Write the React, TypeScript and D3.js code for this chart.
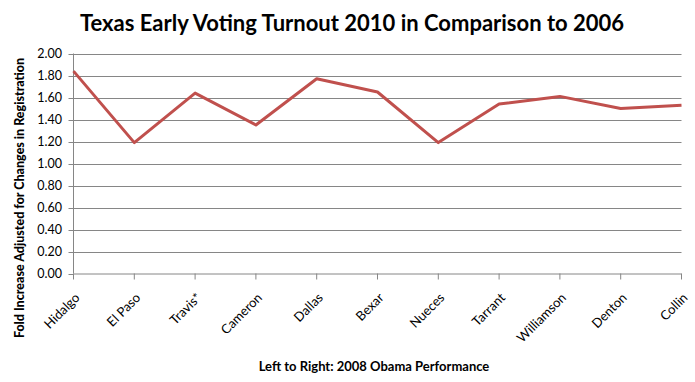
import React from "react";
import * as d3 from "d3";

const counties = ["Hidalgo", "El Paso", "Travis*", "Cameron", "Dallas", "Bexar", "Nueces", "Tarrant", "Williamson", "Denton", "Collin"];
const foldIncrease = [1.84, 1.19, 1.64, 1.35, 1.77, 1.65, 1.19, 1.54, 1.61, 1.50, 1.53];
const yTicks = [0, 0.2, 0.4, 0.6, 0.8, 1.0, 1.2, 1.4, 1.6, 1.8, 2.0];

const W = 695, H = 382;
const left = 73.5, right = 681.5, top = 53.5, bottom = 273.5;
const FONT = "Lato, 'Open Sans', sans-serif";

export default function App() {
  const x = d3.scalePoint<string>().domain(counties).range([left, right]);
  const y = d3.scaleLinear().domain([0, 2]).range([bottom, top]);
  const line = d3.line<number>().x((_, i) => x(counties[i])!).y((d) => y(d));
  const grid = "#868686";
  return (
    <svg width={W} height={H} style={{ position: "absolute", left: 0, top: 0, background: "#fff" }}>
      <rect width={W} height={H} fill="#fff" />
      <text x={352} y={31} textAnchor="middle" fontFamily={FONT} fontWeight="bold" fontSize={22} fill="#000">
        Texas Early Voting Turnout 2010 in Comparison to 2006
      </text>
      {yTicks.map((t) => (
        <g key={t}>
          {t > 0 && <line x1={left} x2={right} y1={Math.round(y(t)) + 0.5} y2={Math.round(y(t)) + 0.5} stroke={grid} strokeWidth={1} />}
          <line x1={left - 5} x2={left} y1={Math.round(y(t)) + 0.5} y2={Math.round(y(t)) + 0.5} stroke={grid} />
          <text x={62} y={y(t) + 4.5} textAnchor="end" fontFamily={FONT} fontSize={12.5} fill="#000">
            {t.toFixed(2)}
          </text>
        </g>
      ))}
      <line x1={left} x2={left} y1={top} y2={bottom} stroke={grid} />
      <line x1={left} x2={right} y1={bottom + 0.5} y2={bottom + 0.5} stroke={grid} />
      {counties.map((c) => (
        <g key={c}>
          <line x1={x(c)} x2={x(c)} y1={bottom} y2={bottom + 6} stroke={grid} />
          <text
            transform={`translate(${x(c)! + 7},${bottom + 25}) rotate(-45)`}
            textAnchor="end"
            fontFamily={FONT}
            fontSize={13}
            fill="#000"
          >
            {c}
          </text>
        </g>
      ))}
      <path d={line(foldIncrease)!} fill="none" stroke="#c0504d" strokeWidth={3} strokeLinejoin="round" />
      <text transform={`translate(24,198) rotate(-90)`} textAnchor="middle" fontFamily={FONT} fontWeight="900" fontSize={12.5} fill="#000">
        Fold Increase Adjusted for Changes in Registration
      </text>
      <text x={374} y={371} textAnchor="middle" fontFamily={FONT} fontWeight="bold" fontSize={13} fill="#000">
        Left to Right:  2008 Obama Performance
      </text>
    </svg>
  );
}
